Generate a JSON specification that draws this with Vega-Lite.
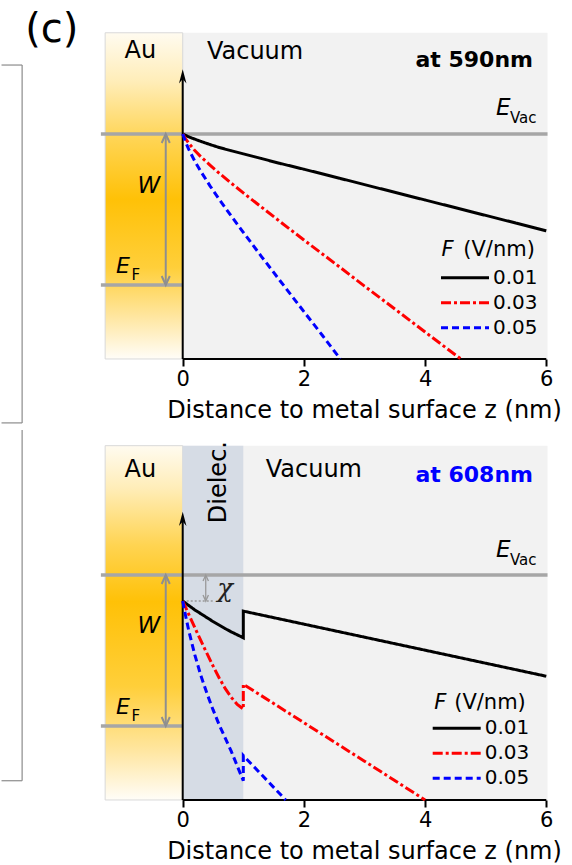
{
"$schema":"https://vega.github.io/schema/vega-lite/v6.json",
"padding":0,
"background":"white",
"bounds":"flush",
"spacing":71,
"config":{"view":{"stroke":null},"font":"DejaVu Sans"},
"resolve":{"scale":{"color":"independent","strokeDash":"independent"},"legend":{"color":"independent","strokeDash":"independent"}},
"datasets":{
"top":[
{"F":"0.01","i":0,"x":0,"y":0},{"F":"0.01","i":1,"x":0.05,"y":-0.05},{"F":"0.01","i":2,"x":0.1,"y":-0.095},{"F":"0.01","i":3,"x":0.2,"y":-0.175},{"F":"0.01","i":4,"x":0.3,"y":-0.25},{"F":"0.01","i":5,"x":0.45,"y":-0.355},{"F":"0.01","i":6,"x":0.6,"y":-0.455},{"F":"0.01","i":7,"x":0.8,"y":-0.565},{"F":"0.01","i":8,"x":1.0,"y":-0.67},{"F":"0.01","i":9,"x":1.3,"y":-0.83},{"F":"0.01","i":10,"x":1.6,"y":-0.99},{"F":"0.01","i":11,"x":2.0,"y":-1.19},{"F":"0.01","i":12,"x":2.6,"y":-1.5},{"F":"0.01","i":13,"x":3.0,"y":-1.71},{"F":"0.01","i":14,"x":4.0,"y":-2.23},{"F":"0.01","i":15,"x":5.0,"y":-2.75},{"F":"0.01","i":16,"x":6.0,"y":-3.27},
{"F":"0.03","i":0,"x":0,"y":0},{"F":"0.03","i":1,"x":0.05,"y":-0.17},{"F":"0.03","i":2,"x":0.1,"y":-0.31},{"F":"0.03","i":3,"x":0.2,"y":-0.56},{"F":"0.03","i":4,"x":0.3,"y":-0.77},{"F":"0.03","i":5,"x":0.45,"y":-1.05},{"F":"0.03","i":6,"x":0.6,"y":-1.32},{"F":"0.03","i":7,"x":0.8,"y":-1.66},{"F":"0.03","i":8,"x":1.0,"y":-1.99},{"F":"0.03","i":9,"x":1.3,"y":-2.47},{"F":"0.03","i":10,"x":1.6,"y":-2.95},{"F":"0.03","i":11,"x":2.0,"y":-3.58},{"F":"0.03","i":12,"x":2.6,"y":-4.51},{"F":"0.03","i":13,"x":3.0,"y":-5.14},{"F":"0.03","i":14,"x":3.5,"y":-5.91},{"F":"0.03","i":15,"x":4.0,"y":-6.69},{"F":"0.03","i":16,"x":4.59,"y":-7.6},
{"F":"0.05","i":0,"x":0,"y":0},{"F":"0.05","i":1,"x":0.05,"y":-0.28},{"F":"0.05","i":2,"x":0.1,"y":-0.52},{"F":"0.05","i":3,"x":0.2,"y":-0.92},{"F":"0.05","i":4,"x":0.3,"y":-1.27},{"F":"0.05","i":5,"x":0.45,"y":-1.75},{"F":"0.05","i":6,"x":0.6,"y":-2.2},{"F":"0.05","i":7,"x":0.8,"y":-2.77},{"F":"0.05","i":8,"x":1.0,"y":-3.32},{"F":"0.05","i":9,"x":1.3,"y":-4.14},{"F":"0.05","i":10,"x":1.6,"y":-4.94},{"F":"0.05","i":11,"x":2.0,"y":-6.0},{"F":"0.05","i":12,"x":2.3,"y":-6.79},{"F":"0.05","i":13,"x":2.6,"y":-7.6}
],
"bottom":[
{"F":"0.01","i":0,"x":0,"y":-0.88},{"F":"0.01","i":1,"x":0.1,"y":-1.03},{"F":"0.01","i":2,"x":0.2,"y":-1.18},{"F":"0.01","i":3,"x":0.3,"y":-1.31},{"F":"0.01","i":4,"x":0.4,"y":-1.44},{"F":"0.01","i":5,"x":0.5,"y":-1.57},{"F":"0.01","i":6,"x":0.6,"y":-1.69},{"F":"0.01","i":7,"x":0.7,"y":-1.81},{"F":"0.01","i":8,"x":0.8,"y":-1.92},{"F":"0.01","i":9,"x":0.9,"y":-2.02},{"F":"0.01","i":10,"x":1.0,"y":-2.12},{"F":"0.01","i":11,"x":1.0,"y":-1.22},{"F":"0.01","i":12,"x":2.0,"y":-1.66},{"F":"0.01","i":13,"x":3.0,"y":-2.1},{"F":"0.01","i":14,"x":4.0,"y":-2.54},{"F":"0.01","i":15,"x":5.0,"y":-2.98},{"F":"0.01","i":16,"x":6.0,"y":-3.42},
{"F":"0.03","i":0,"x":0,"y":-0.88},{"F":"0.03","i":1,"x":0.05,"y":-1.1},{"F":"0.03","i":2,"x":0.1,"y":-1.33},{"F":"0.03","i":3,"x":0.2,"y":-1.78},{"F":"0.03","i":4,"x":0.3,"y":-2.22},{"F":"0.03","i":5,"x":0.4,"y":-2.65},{"F":"0.03","i":6,"x":0.5,"y":-3.07},{"F":"0.03","i":7,"x":0.6,"y":-3.47},{"F":"0.03","i":8,"x":0.7,"y":-3.83},{"F":"0.03","i":9,"x":0.8,"y":-4.13},{"F":"0.03","i":10,"x":0.9,"y":-4.37},{"F":"0.03","i":11,"x":1.0,"y":-4.53},{"F":"0.03","i":12,"x":1.0,"y":-3.69},{"F":"0.03","i":13,"x":2.0,"y":-4.99},{"F":"0.03","i":14,"x":3.0,"y":-6.29},{"F":"0.03","i":15,"x":4.0,"y":-7.6},
{"F":"0.05","i":0,"x":0,"y":-0.88},{"F":"0.05","i":1,"x":0.05,"y":-1.4},{"F":"0.05","i":2,"x":0.1,"y":-1.88},{"F":"0.05","i":3,"x":0.2,"y":-2.7},{"F":"0.05","i":4,"x":0.3,"y":-3.4},{"F":"0.05","i":5,"x":0.4,"y":-4.0},{"F":"0.05","i":6,"x":0.5,"y":-4.55},{"F":"0.05","i":7,"x":0.6,"y":-5.05},{"F":"0.05","i":8,"x":0.7,"y":-5.5},{"F":"0.05","i":9,"x":0.8,"y":-5.95},{"F":"0.05","i":10,"x":0.9,"y":-6.45},{"F":"0.05","i":11,"x":1.0,"y":-6.95},{"F":"0.05","i":12,"x":1.0,"y":-6.1},{"F":"0.05","i":13,"x":1.7,"y":-7.6}
]
},
"vconcat":[
{
"width":572,"height":359,
"layer":[
{"data":{"values":[{}]},"mark":{"type":"rule","color":"#8c8c8c","strokeWidth":1.2},"encoding":{"x":{"datum":-2.65,"type":"quantitative","scale":{"domain":[-3.015,6.424],"nice":false,"zero":false}},"y":{"datum":2.33,"type":"quantitative","scale":{"domain":[-7.601,4.527],"nice":false,"zero":false},"axis":null},"y2":{"datum":-9.76}}},
{"data":{"values":[{}]},"mark":{"type":"rule","color":"#8c8c8c","strokeWidth":1.2},"encoding":{"x":{"datum":-2.99,"type":"quantitative","scale":{"domain":[-3.015,6.424],"nice":false,"zero":false}},"x2":{"datum":-2.65},"y":{"datum":2.33,"type":"quantitative","scale":{"domain":[-7.601,4.527],"nice":false,"zero":false},"axis":null}}},
{"data":{"values":[{}]},"mark":{"type":"rule","color":"#8c8c8c","strokeWidth":1.2},"encoding":{"x":{"datum":-2.99,"type":"quantitative","scale":{"domain":[-3.015,6.424],"nice":false,"zero":false}},"x2":{"datum":-2.65},"y":{"datum":-9.76,"type":"quantitative","scale":{"domain":[-7.601,4.527],"nice":false,"zero":false},"axis":null}}},
{"data":{"values":[{}]},"mark":{"type":"rect","fill":"#F2F2F2"},"encoding":{"x":{"datum":-1.28,"type":"quantitative","scale":{"domain":[-3.015,6.424],"nice":false,"zero":false}},"x2":{"datum":6.02},"y":{"datum":3.42,"type":"quantitative","scale":{"domain":[-7.601,4.527],"nice":false,"zero":false},"axis":null},"y2":{"datum":-7.6}}},
{"data":{"values":[{}]},"mark":{"type":"rect","stroke":"#D9D9D9","strokeWidth":1,"fill":{"gradient":"linear","x1":0,"y1":0,"x2":0,"y2":1,"stops":[{"offset":0,"color":"#FFFBF0"},{"offset":0.15,"color":"#FFEDB8"},{"offset":0.33,"color":"#FFD452"},{"offset":0.51,"color":"#FFC107"},{"offset":0.72,"color":"#FFCF3A"},{"offset":0.87,"color":"#FFE6A0"},{"offset":1,"color":"#FFFDF8"}]}},"encoding":{"x":{"datum":-1.28,"type":"quantitative","scale":{"domain":[-3.015,6.424],"nice":false,"zero":false}},"x2":{"datum":0},"y":{"datum":3.42,"type":"quantitative","scale":{"domain":[-7.601,4.527],"nice":false,"zero":false},"axis":null},"y2":{"datum":-7.6}}},
{"data":{"values":[{}]},"mark":{"type":"rule","color":"#A6A6A6","strokeWidth":3.5},"encoding":{"x":{"datum":-1.35,"type":"quantitative","scale":{"domain":[-3.015,6.424],"nice":false,"zero":false}},"x2":{"datum":6.02},"y":{"datum":0,"type":"quantitative","scale":{"domain":[-7.601,4.527],"nice":false,"zero":false},"axis":null}}},
{"data":{"values":[{}]},"mark":{"type":"rule","color":"#A6A6A6","strokeWidth":3.5},"encoding":{"x":{"datum":-1.35,"type":"quantitative","scale":{"domain":[-3.015,6.424],"nice":false,"zero":false}},"x2":{"datum":0},"y":{"datum":-5.1,"type":"quantitative","scale":{"domain":[-7.601,4.527],"nice":false,"zero":false},"axis":null}}},
{"data":{"values":[{}]},"mark":{"type":"rule","color":"#8F8F8F","strokeWidth":2},"encoding":{"x":{"datum":-0.28,"type":"quantitative","scale":{"domain":[-3.015,6.424],"nice":false,"zero":false}},"y":{"datum":-0.05,"type":"quantitative","scale":{"domain":[-7.601,4.527],"nice":false,"zero":false},"axis":null},"y2":{"datum":-5.05}}},
{"data":{"values":[{}]},"mark":{"type":"point","shape":"M-0.9,2L0,0L0.9,2","size":81,"filled":false,"color":"#8F8F8F","strokeWidth":2,"opacity":1},"encoding":{"x":{"datum":-0.28,"type":"quantitative","scale":{"domain":[-3.015,6.424],"nice":false,"zero":false}},"y":{"datum":0,"type":"quantitative","scale":{"domain":[-7.601,4.527],"nice":false,"zero":false},"axis":null}}},
{"data":{"values":[{}]},"mark":{"type":"point","shape":"M-0.9,-2L0,0L0.9,-2","size":81,"filled":false,"color":"#8F8F8F","strokeWidth":2,"opacity":1},"encoding":{"x":{"datum":-0.28,"type":"quantitative","scale":{"domain":[-3.015,6.424],"nice":false,"zero":false}},"y":{"datum":-5.1,"type":"quantitative","scale":{"domain":[-7.601,4.527],"nice":false,"zero":false},"axis":null}}},
{"data":{"values":[{}]},"mark":{"type":"rule","color":"#000000","strokeWidth":2},"encoding":{"x":{"datum":0,"type":"quantitative","scale":{"domain":[-3.015,6.424],"nice":false,"zero":false}},"y":{"datum":-7.6,"type":"quantitative","scale":{"domain":[-7.601,4.527],"nice":false,"zero":false},"axis":null},"y2":{"datum":1.9}}},
{"data":{"values":[{}]},"mark":{"type":"point","shape":"M0,0L-0.5,1.9L0,1.3L0.5,1.9Z","size":225,"filled":true,"color":"#000000","opacity":1},"encoding":{"x":{"datum":0,"type":"quantitative","scale":{"domain":[-3.015,6.424],"nice":false,"zero":false}},"y":{"datum":2.19,"type":"quantitative","scale":{"domain":[-7.601,4.527],"nice":false,"zero":false},"axis":null}}},
{"data":{"values":[{}]},"mark":{"type":"rule","color":"#000000","strokeWidth":2},"encoding":{"x":{"datum":0,"type":"quantitative","scale":{"domain":[-3.015,6.424],"nice":false,"zero":false}},"x2":{"datum":6},"y":{"datum":-7.6,"type":"quantitative","scale":{"domain":[-7.601,4.527],"nice":false,"zero":false},"axis":null}}},
{"data":{"name":"top"},"mark":{"type":"line","strokeWidth":3},"encoding":{
 "x":{"field":"x","type":"quantitative","scale":{"domain":[-3.015,6.424],"nice":false,"zero":false},"axis":{"values":[0,2,4,6],"format":"d","domain":false,"grid":false,"ticks":true,"labels":true,"tickColor":"#000000","tickWidth":2,"tickSize":7,"labelFont":"DejaVu Sans","labelFontSize":21,"labelColor":"#000000","labelPadding":2.5,"labelFlush":false,"labelOverlap":false,"title":"Distance to metal surface z (nm)","titleFont":"DejaVu Sans","titleFontSize":24,"titleFontWeight":"normal","titleColor":"#000000","titleX":364,"titleY":58,"titleAlign":"center","titleBaseline":"alphabetic","zindex":1}},
 "y":{"field":"y","type":"quantitative","scale":{"domain":[-7.601,4.527],"nice":false,"zero":false},"axis":null},
 "color":{"field":"F","type":"nominal","scale":{"domain":["0.01","0.03","0.05"],"range":["#000000","#FF0000","#0000FF"]},"legend":{"orient":"none","legendX":455,"legendY":267.7,"direction":"vertical","title":null,"symbolType":"M-4,0L4,0","symbolSize":144,"symbolStrokeWidth":3,"symbolOffset":0,"labelFont":"DejaVu Sans","labelFontSize":20,"labelColor":"#000000","labelOffset":18,"rowPadding":5,"padding":0}},
 "strokeDash":{"field":"F","type":"nominal","scale":{"domain":["0.01","0.03","0.05"],"range":[[1,0],[10,3,3,3],[7,4]]},"legend":{"orient":"none","legendX":455,"legendY":267.7,"direction":"vertical","title":null,"symbolType":"M-4,0L4,0","symbolSize":144,"symbolStrokeWidth":3,"symbolOffset":0,"labelFont":"DejaVu Sans","labelFontSize":20,"labelColor":"#000000","labelOffset":18,"rowPadding":5,"padding":0}},
 "order":{"field":"i","type":"quantitative"}}},
{"data":{"values":[{}]},"mark":{"type":"text","text":"(c)","font":"DejaVu Sans","fontSize":40,"align":"center","baseline":"alphabetic","color":"#000000"},"encoding":{"x":{"datum":-2.16,"type":"quantitative","scale":{"domain":[-3.015,6.424],"nice":false,"zero":false}},"y":{"datum":3.11,"type":"quantitative","scale":{"domain":[-7.601,4.527],"nice":false,"zero":false},"axis":null}}},
{"data":{"values":[{}]},"mark":{"type":"text","text":"Au","font":"DejaVu Sans","fontSize":24,"align":"center","baseline":"alphabetic","color":"#000000"},"encoding":{"x":{"datum":-0.7,"type":"quantitative","scale":{"domain":[-3.015,6.424],"nice":false,"zero":false}},"y":{"datum":2.56,"type":"quantitative","scale":{"domain":[-7.601,4.527],"nice":false,"zero":false},"axis":null}}},
{"data":{"values":[{}]},"mark":{"type":"text","text":"Vacuum","font":"DejaVu Sans","fontSize":24,"align":"left","baseline":"alphabetic","color":"#000000"},"encoding":{"x":{"datum":0.4,"type":"quantitative","scale":{"domain":[-3.015,6.424],"nice":false,"zero":false}},"y":{"datum":2.52,"type":"quantitative","scale":{"domain":[-7.601,4.527],"nice":false,"zero":false},"axis":null}}},
{"data":{"values":[{}]},"mark":{"type":"text","text":"at 590nm","font":"DejaVu Sans","fontSize":22,"fontWeight":"bold","align":"right","baseline":"alphabetic","color":"#000000"},"encoding":{"x":{"datum":5.78,"type":"quantitative","scale":{"domain":[-3.015,6.424],"nice":false,"zero":false}},"y":{"datum":2.27,"type":"quantitative","scale":{"domain":[-7.601,4.527],"nice":false,"zero":false},"axis":null}}},
{"data":{"values":[{}]},"mark":{"type":"text","text":"E","font":"DejaVu Sans","fontSize":23,"fontStyle":"italic","align":"left","baseline":"alphabetic","color":"#000000"},"encoding":{"x":{"datum":5.17,"type":"quantitative","scale":{"domain":[-3.015,6.424],"nice":false,"zero":false}},"y":{"datum":0.64,"type":"quantitative","scale":{"domain":[-7.601,4.527],"nice":false,"zero":false},"axis":null}}},
{"data":{"values":[{}]},"mark":{"type":"text","text":"Vac","font":"DejaVu Sans","fontSize":15,"align":"left","baseline":"alphabetic","color":"#000000"},"encoding":{"x":{"datum":5.4,"type":"quantitative","scale":{"domain":[-3.015,6.424],"nice":false,"zero":false}},"y":{"datum":0.38,"type":"quantitative","scale":{"domain":[-7.601,4.527],"nice":false,"zero":false},"axis":null}}},
{"data":{"values":[{}]},"mark":{"type":"text","text":"E","font":"DejaVu Sans","fontSize":22,"fontStyle":"italic","align":"left","baseline":"alphabetic","color":"#000000"},"encoding":{"x":{"datum":-1.1,"type":"quantitative","scale":{"domain":[-3.015,6.424],"nice":false,"zero":false}},"y":{"datum":-4.71,"type":"quantitative","scale":{"domain":[-7.601,4.527],"nice":false,"zero":false},"axis":null}}},
{"data":{"values":[{}]},"mark":{"type":"text","text":"F","font":"DejaVu Sans","fontSize":15,"align":"left","baseline":"alphabetic","color":"#000000"},"encoding":{"x":{"datum":-0.845,"type":"quantitative","scale":{"domain":[-3.015,6.424],"nice":false,"zero":false}},"y":{"datum":-4.93,"type":"quantitative","scale":{"domain":[-7.601,4.527],"nice":false,"zero":false},"axis":null}}},
{"data":{"values":[{}]},"mark":{"type":"text","text":"W","font":"DejaVu Sans","fontSize":23,"fontStyle":"italic","align":"center","baseline":"alphabetic","color":"#000000"},"encoding":{"x":{"datum":-0.56,"type":"quantitative","scale":{"domain":[-3.015,6.424],"nice":false,"zero":false}},"y":{"datum":-1.98,"type":"quantitative","scale":{"domain":[-7.601,4.527],"nice":false,"zero":false},"axis":null}}},
{"data":{"values":[{}]},"mark":{"type":"text","text":"F","font":"DejaVu Sans","fontSize":21,"fontStyle":"italic","align":"left","baseline":"alphabetic","color":"#000000"},"encoding":{"x":{"datum":4.27,"type":"quantitative","scale":{"domain":[-3.015,6.424],"nice":false,"zero":false}},"y":{"datum":-4.12,"type":"quantitative","scale":{"domain":[-7.601,4.527],"nice":false,"zero":false},"axis":null}}},
{"data":{"values":[{}]},"mark":{"type":"text","text":"(V/nm)","font":"DejaVu Sans","fontSize":21,"align":"left","baseline":"alphabetic","color":"#000000"},"encoding":{"x":{"datum":4.63,"type":"quantitative","scale":{"domain":[-3.015,6.424],"nice":false,"zero":false}},"y":{"datum":-4.12,"type":"quantitative","scale":{"domain":[-7.601,4.527],"nice":false,"zero":false},"axis":null}}}
]
},
{
"width":572,"height":370,
"layer":[
{"data":{"values":[{}]},"mark":{"type":"rule","color":"#8c8c8c","strokeWidth":1.2},"encoding":{"x":{"datum":-2.65,"type":"quantitative","scale":{"domain":[-3.015,6.424],"nice":false,"zero":false}},"y":{"datum":4.899,"type":"quantitative","scale":{"domain":[-7.601,4.899],"nice":false,"zero":false},"axis":null},"y2":{"datum":-6.95}}},
{"data":{"values":[{}]},"mark":{"type":"rule","color":"#8c8c8c","strokeWidth":1.2},"encoding":{"x":{"datum":-2.99,"type":"quantitative","scale":{"domain":[-3.015,6.424],"nice":false,"zero":false}},"x2":{"datum":-2.65},"y":{"datum":-6.95,"type":"quantitative","scale":{"domain":[-7.601,4.899],"nice":false,"zero":false},"axis":null}}},
{"data":{"values":[{}]},"mark":{"type":"rect","fill":"#F2F2F2"},"encoding":{"x":{"datum":-1.28,"type":"quantitative","scale":{"domain":[-3.015,6.424],"nice":false,"zero":false}},"x2":{"datum":6.02},"y":{"datum":4.37,"type":"quantitative","scale":{"domain":[-7.601,4.899],"nice":false,"zero":false},"axis":null},"y2":{"datum":-7.6}}},
{"data":{"values":[{}]},"mark":{"type":"rect","stroke":"#D9D9D9","strokeWidth":1,"fill":{"gradient":"linear","x1":0,"y1":0,"x2":0,"y2":1,"stops":[{"offset":0,"color":"#FFFBF0"},{"offset":0.12,"color":"#FFEDB8"},{"offset":0.28,"color":"#FFD452"},{"offset":0.44,"color":"#FFC107"},{"offset":0.68,"color":"#FFCF3A"},{"offset":0.86,"color":"#FFE6A0"},{"offset":1,"color":"#FFFDF8"}]}},"encoding":{"x":{"datum":-1.28,"type":"quantitative","scale":{"domain":[-3.015,6.424],"nice":false,"zero":false}},"x2":{"datum":0},"y":{"datum":4.37,"type":"quantitative","scale":{"domain":[-7.601,4.899],"nice":false,"zero":false},"axis":null},"y2":{"datum":-7.6}}},
{"data":{"values":[{}]},"mark":{"type":"rect","fill":"#D6DCE5"},"encoding":{"x":{"datum":0,"type":"quantitative","scale":{"domain":[-3.015,6.424],"nice":false,"zero":false}},"x2":{"datum":1.0},"y":{"datum":4.37,"type":"quantitative","scale":{"domain":[-7.601,4.899],"nice":false,"zero":false},"axis":null},"y2":{"datum":-7.6}}},
{"data":{"values":[{}]},"mark":{"type":"rule","color":"#A6A6A6","strokeWidth":3.5},"encoding":{"x":{"datum":-1.35,"type":"quantitative","scale":{"domain":[-3.015,6.424],"nice":false,"zero":false}},"x2":{"datum":6.02},"y":{"datum":0,"type":"quantitative","scale":{"domain":[-7.601,4.899],"nice":false,"zero":false},"axis":null}}},
{"data":{"values":[{}]},"mark":{"type":"rule","color":"#A6A6A6","strokeWidth":3.5},"encoding":{"x":{"datum":-1.35,"type":"quantitative","scale":{"domain":[-3.015,6.424],"nice":false,"zero":false}},"x2":{"datum":0},"y":{"datum":-5.1,"type":"quantitative","scale":{"domain":[-7.601,4.899],"nice":false,"zero":false},"axis":null}}},
{"data":{"values":[{}]},"mark":{"type":"rule","color":"#8F8F8F","strokeWidth":2},"encoding":{"x":{"datum":-0.28,"type":"quantitative","scale":{"domain":[-3.015,6.424],"nice":false,"zero":false}},"y":{"datum":-0.05,"type":"quantitative","scale":{"domain":[-7.601,4.899],"nice":false,"zero":false},"axis":null},"y2":{"datum":-5.05}}},
{"data":{"values":[{}]},"mark":{"type":"point","shape":"M-0.9,2L0,0L0.9,2","size":81,"filled":false,"color":"#8F8F8F","strokeWidth":2,"opacity":1},"encoding":{"x":{"datum":-0.28,"type":"quantitative","scale":{"domain":[-3.015,6.424],"nice":false,"zero":false}},"y":{"datum":0,"type":"quantitative","scale":{"domain":[-7.601,4.899],"nice":false,"zero":false},"axis":null}}},
{"data":{"values":[{}]},"mark":{"type":"point","shape":"M-0.9,-2L0,0L0.9,-2","size":81,"filled":false,"color":"#8F8F8F","strokeWidth":2,"opacity":1},"encoding":{"x":{"datum":-0.28,"type":"quantitative","scale":{"domain":[-3.015,6.424],"nice":false,"zero":false}},"y":{"datum":-5.1,"type":"quantitative","scale":{"domain":[-7.601,4.899],"nice":false,"zero":false},"axis":null}}},
{"data":{"values":[{}]},"mark":{"type":"rule","color":"#999999","strokeWidth":1.5,"strokeDash":[2,2]},"encoding":{"x":{"datum":0,"type":"quantitative","scale":{"domain":[-3.015,6.424],"nice":false,"zero":false}},"x2":{"datum":0.5},"y":{"datum":-0.88,"type":"quantitative","scale":{"domain":[-7.601,4.899],"nice":false,"zero":false},"axis":null}}},
{"data":{"values":[{}]},"mark":{"type":"rule","color":"#999999","strokeWidth":1.3},"encoding":{"x":{"datum":0.38,"type":"quantitative","scale":{"domain":[-3.015,6.424],"nice":false,"zero":false}},"y":{"datum":-0.05,"type":"quantitative","scale":{"domain":[-7.601,4.899],"nice":false,"zero":false},"axis":null},"y2":{"datum":-0.83}}},
{"data":{"values":[{}]},"mark":{"type":"point","shape":"M-0.9,2L0,0L0.9,2","size":36,"filled":false,"color":"#999999","strokeWidth":1.3,"opacity":1},"encoding":{"x":{"datum":0.38,"type":"quantitative","scale":{"domain":[-3.015,6.424],"nice":false,"zero":false}},"y":{"datum":0,"type":"quantitative","scale":{"domain":[-7.601,4.899],"nice":false,"zero":false},"axis":null}}},
{"data":{"values":[{}]},"mark":{"type":"point","shape":"M-0.9,-2L0,0L0.9,-2","size":36,"filled":false,"color":"#999999","strokeWidth":1.3,"opacity":1},"encoding":{"x":{"datum":0.38,"type":"quantitative","scale":{"domain":[-3.015,6.424],"nice":false,"zero":false}},"y":{"datum":-0.88,"type":"quantitative","scale":{"domain":[-7.601,4.899],"nice":false,"zero":false},"axis":null}}},
{"data":{"values":[{}]},"mark":{"type":"rule","color":"#000000","strokeWidth":2},"encoding":{"x":{"datum":0,"type":"quantitative","scale":{"domain":[-3.015,6.424],"nice":false,"zero":false}},"y":{"datum":-7.6,"type":"quantitative","scale":{"domain":[-7.601,4.899],"nice":false,"zero":false},"axis":null},"y2":{"datum":1.85}}},
{"data":{"values":[{}]},"mark":{"type":"point","shape":"M0,0L-0.5,1.9L0,1.3L0.5,1.9Z","size":225,"filled":true,"color":"#000000","opacity":1},"encoding":{"x":{"datum":0,"type":"quantitative","scale":{"domain":[-3.015,6.424],"nice":false,"zero":false}},"y":{"datum":2.14,"type":"quantitative","scale":{"domain":[-7.601,4.899],"nice":false,"zero":false},"axis":null}}},
{"data":{"values":[{}]},"mark":{"type":"rule","color":"#000000","strokeWidth":2},"encoding":{"x":{"datum":0,"type":"quantitative","scale":{"domain":[-3.015,6.424],"nice":false,"zero":false}},"x2":{"datum":6},"y":{"datum":-7.6,"type":"quantitative","scale":{"domain":[-7.601,4.899],"nice":false,"zero":false},"axis":null}}},
{"data":{"name":"bottom"},"mark":{"type":"line","strokeWidth":3},"encoding":{
 "x":{"field":"x","type":"quantitative","scale":{"domain":[-3.015,6.424],"nice":false,"zero":false},"axis":{"values":[0,2,4,6],"format":"d","domain":false,"grid":false,"ticks":true,"labels":true,"tickColor":"#000000","tickWidth":2,"tickSize":7,"labelFont":"DejaVu Sans","labelFontSize":21,"labelColor":"#000000","labelPadding":2.5,"labelFlush":false,"labelOverlap":false,"title":"Distance to metal surface z (nm)","titleFont":"DejaVu Sans","titleFontSize":24,"titleFontWeight":"normal","titleColor":"#000000","titleX":364,"titleY":58,"titleAlign":"center","titleBaseline":"alphabetic","zindex":1}},
 "y":{"field":"y","type":"quantitative","scale":{"domain":[-7.601,4.899],"nice":false,"zero":false},"axis":null},
 "color":{"field":"F","type":"nominal","scale":{"domain":["0.01","0.03","0.05"],"range":["#000000","#FF0000","#0000FF"]},"legend":{"orient":"none","legendX":446.7,"legendY":288.3,"direction":"vertical","title":null,"symbolType":"M-4,0L4,0","symbolSize":144,"symbolStrokeWidth":3,"symbolOffset":0,"labelFont":"DejaVu Sans","labelFontSize":20,"labelColor":"#000000","labelOffset":18,"rowPadding":5,"padding":0}},
 "strokeDash":{"field":"F","type":"nominal","scale":{"domain":["0.01","0.03","0.05"],"range":[[1,0],[10,3,3,3],[7,4]]},"legend":{"orient":"none","legendX":446.7,"legendY":288.3,"direction":"vertical","title":null,"symbolType":"M-4,0L4,0","symbolSize":144,"symbolStrokeWidth":3,"symbolOffset":0,"labelFont":"DejaVu Sans","labelFontSize":20,"labelColor":"#000000","labelOffset":18,"rowPadding":5,"padding":0}},
 "order":{"field":"i","type":"quantitative"}}},
{"data":{"values":[{}]},"mark":{"type":"text","text":"Au","font":"DejaVu Sans","fontSize":24,"align":"center","baseline":"alphabetic","color":"#000000"},"encoding":{"x":{"datum":-0.7,"type":"quantitative","scale":{"domain":[-3.015,6.424],"nice":false,"zero":false}},"y":{"datum":3.32,"type":"quantitative","scale":{"domain":[-7.601,4.899],"nice":false,"zero":false},"axis":null}}},
{"data":{"values":[{}]},"mark":{"type":"text","text":"Dielec.","font":"DejaVu Sans","fontSize":24,"angle":270,"align":"left","baseline":"alphabetic","color":"#000000"},"encoding":{"x":{"datum":0.71,"type":"quantitative","scale":{"domain":[-3.015,6.424],"nice":false,"zero":false}},"y":{"datum":1.75,"type":"quantitative","scale":{"domain":[-7.601,4.899],"nice":false,"zero":false},"axis":null}}},
{"data":{"values":[{}]},"mark":{"type":"text","text":"Vacuum","font":"DejaVu Sans","fontSize":24,"align":"left","baseline":"alphabetic","color":"#000000"},"encoding":{"x":{"datum":1.37,"type":"quantitative","scale":{"domain":[-3.015,6.424],"nice":false,"zero":false}},"y":{"datum":3.32,"type":"quantitative","scale":{"domain":[-7.601,4.899],"nice":false,"zero":false},"axis":null}}},
{"data":{"values":[{}]},"mark":{"type":"text","text":"at 608nm","font":"DejaVu Sans","fontSize":22,"fontWeight":"bold","align":"right","baseline":"alphabetic","color":"#0000FF"},"encoding":{"x":{"datum":5.78,"type":"quantitative","scale":{"domain":[-3.015,6.424],"nice":false,"zero":false}},"y":{"datum":3.15,"type":"quantitative","scale":{"domain":[-7.601,4.899],"nice":false,"zero":false},"axis":null}}},
{"data":{"values":[{}]},"mark":{"type":"text","text":"E","font":"DejaVu Sans","fontSize":23,"fontStyle":"italic","align":"left","baseline":"alphabetic","color":"#000000"},"encoding":{"x":{"datum":5.17,"type":"quantitative","scale":{"domain":[-3.015,6.424],"nice":false,"zero":false}},"y":{"datum":0.62,"type":"quantitative","scale":{"domain":[-7.601,4.899],"nice":false,"zero":false},"axis":null}}},
{"data":{"values":[{}]},"mark":{"type":"text","text":"Vac","font":"DejaVu Sans","fontSize":15,"align":"left","baseline":"alphabetic","color":"#000000"},"encoding":{"x":{"datum":5.4,"type":"quantitative","scale":{"domain":[-3.015,6.424],"nice":false,"zero":false}},"y":{"datum":0.34,"type":"quantitative","scale":{"domain":[-7.601,4.899],"nice":false,"zero":false},"axis":null}}},
{"data":{"values":[{}]},"mark":{"type":"text","text":"E","font":"DejaVu Sans","fontSize":22,"fontStyle":"italic","align":"left","baseline":"alphabetic","color":"#000000"},"encoding":{"x":{"datum":-1.1,"type":"quantitative","scale":{"domain":[-3.015,6.424],"nice":false,"zero":false}},"y":{"datum":-4.71,"type":"quantitative","scale":{"domain":[-7.601,4.899],"nice":false,"zero":false},"axis":null}}},
{"data":{"values":[{}]},"mark":{"type":"text","text":"F","font":"DejaVu Sans","fontSize":15,"align":"left","baseline":"alphabetic","color":"#000000"},"encoding":{"x":{"datum":-0.845,"type":"quantitative","scale":{"domain":[-3.015,6.424],"nice":false,"zero":false}},"y":{"datum":-4.93,"type":"quantitative","scale":{"domain":[-7.601,4.899],"nice":false,"zero":false},"axis":null}}},
{"data":{"values":[{}]},"mark":{"type":"text","text":"W","font":"DejaVu Sans","fontSize":23,"fontStyle":"italic","align":"center","baseline":"alphabetic","color":"#000000"},"encoding":{"x":{"datum":-0.56,"type":"quantitative","scale":{"domain":[-3.015,6.424],"nice":false,"zero":false}},"y":{"datum":-1.97,"type":"quantitative","scale":{"domain":[-7.601,4.899],"nice":false,"zero":false},"axis":null}}},
{"data":{"values":[{}]},"mark":{"type":"text","text":"χ","font":"DejaVu Serif","fontSize":26,"fontStyle":"italic","align":"center","baseline":"alphabetic","color":"#222222"},"encoding":{"x":{"datum":0.7,"type":"quantitative","scale":{"domain":[-3.015,6.424],"nice":false,"zero":false}},"y":{"datum":-0.74,"type":"quantitative","scale":{"domain":[-7.601,4.899],"nice":false,"zero":false},"axis":null}}},
{"data":{"values":[{}]},"mark":{"type":"text","text":"F","font":"DejaVu Sans","fontSize":21,"fontStyle":"italic","align":"left","baseline":"alphabetic","color":"#000000"},"encoding":{"x":{"datum":4.15,"type":"quantitative","scale":{"domain":[-3.015,6.424],"nice":false,"zero":false}},"y":{"datum":-4.53,"type":"quantitative","scale":{"domain":[-7.601,4.899],"nice":false,"zero":false},"axis":null}}},
{"data":{"values":[{}]},"mark":{"type":"text","text":"(V/nm)","font":"DejaVu Sans","fontSize":21,"align":"left","baseline":"alphabetic","color":"#000000"},"encoding":{"x":{"datum":4.48,"type":"quantitative","scale":{"domain":[-3.015,6.424],"nice":false,"zero":false}},"y":{"datum":-4.53,"type":"quantitative","scale":{"domain":[-7.601,4.899],"nice":false,"zero":false},"axis":null}}}
]
}
]
}
